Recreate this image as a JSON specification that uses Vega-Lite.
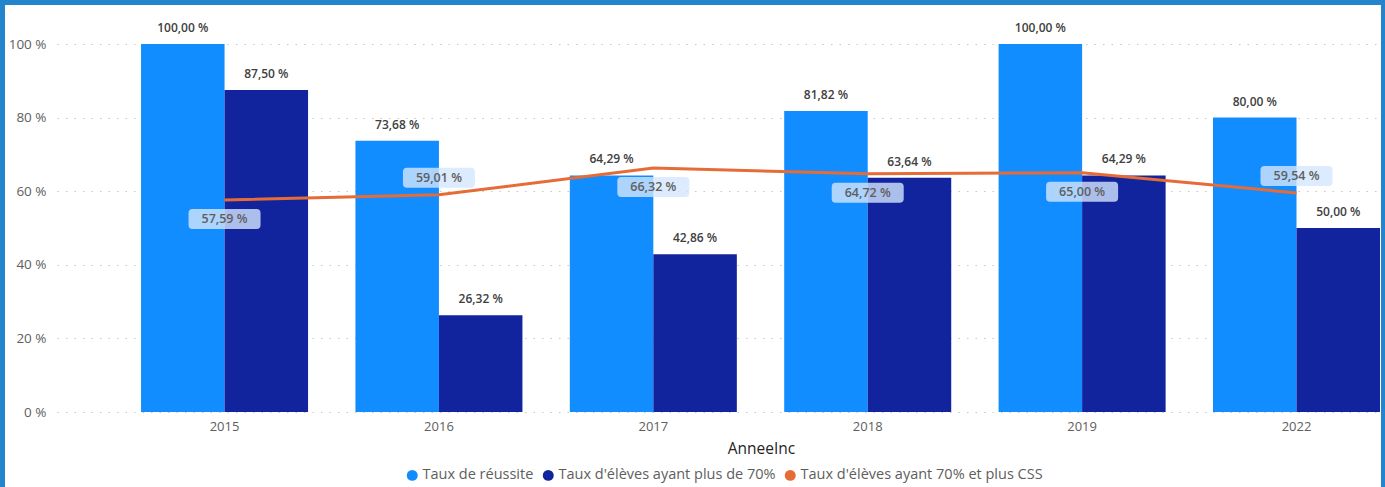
{
  "$schema": "https://vega.github.io/schema/vega-lite/v6.json",
  "width": 1376,
  "height": 482,
  "autosize": {"type": "none"},
  "padding": {"left": 5, "top": 5, "right": 4, "bottom": 0},
  "background": "#2585cc",
  "config": {
    "view": {"fill": "white", "stroke": null},
    "font": "Open Sans",
    "locale": {
      "number": {"decimal": ",", "thousands": " ", "grouping": [3], "currency": ["", " €"], "percent": " %"}
    }
  },
  "datasets": {
    "bars": [
      {"annee": "2015", "serie": "Taux de réussite", "valeur": 1.0},
      {"annee": "2015", "serie": "Taux d'élèves ayant plus de 70%", "valeur": 0.875},
      {"annee": "2016", "serie": "Taux de réussite", "valeur": 0.7368},
      {"annee": "2016", "serie": "Taux d'élèves ayant plus de 70%", "valeur": 0.2632},
      {"annee": "2017", "serie": "Taux de réussite", "valeur": 0.6429},
      {"annee": "2017", "serie": "Taux d'élèves ayant plus de 70%", "valeur": 0.4286},
      {"annee": "2018", "serie": "Taux de réussite", "valeur": 0.8182},
      {"annee": "2018", "serie": "Taux d'élèves ayant plus de 70%", "valeur": 0.6364},
      {"annee": "2019", "serie": "Taux de réussite", "valeur": 1.0},
      {"annee": "2019", "serie": "Taux d'élèves ayant plus de 70%", "valeur": 0.6429},
      {"annee": "2022", "serie": "Taux de réussite", "valeur": 0.8},
      {"annee": "2022", "serie": "Taux d'élèves ayant plus de 70%", "valeur": 0.5}
    ],
    "ligne": [
      {"annee": "2015", "css": 0.5759},
      {"annee": "2016", "css": 0.5901},
      {"annee": "2017", "css": 0.6632},
      {"annee": "2018", "css": 0.6472},
      {"annee": "2019", "css": 0.65},
      {"annee": "2022", "css": 0.5954}
    ]
  },
  "encoding": {
    "x": {
      "field": "annee",
      "type": "nominal",
      "title": "AnneeInc",
      "sort": null,
      "scale": {
        "domain": ["2015", "2016", "2017", "2018", "2019", "2022"],
        "range": [52, 1375],
        "paddingInner": 0.221,
        "paddingOuter": 0.196,
        "align": 1
      },
      "axis": {
        "orient": "bottom",
        "offset": -70,
        "domain": false,
        "ticks": false,
        "tickSize": 0,
        "labelAngle": 0,
        "labelPadding": 3,
        "labelFontSize": 13,
        "labelColor": "#605e5c",
        "titleFontSize": 15.5,
        "titleFontWeight": 500,
        "titleColor": "#252423",
        "titlePadding": 8,
        "titleX": 756
      }
    }
  },
  "layer": [
    {
      "data": {"name": "bars"},
      "mark": {"type": "bar"},
      "encoding": {
        "xOffset": {
          "field": "serie",
          "type": "nominal",
          "sort": null,
          "scale": {"domain": ["Taux de réussite", "Taux d'élèves ayant plus de 70%"], "paddingInner": 0, "paddingOuter": 0}
        },
        "y": {
          "field": "valeur",
          "type": "quantitative",
          "title": null,
          "scale": {"domain": [0, 1], "range": [407, 39], "nice": false},
          "axis": {
            "orient": "left",
            "offset": -52,
            "values": [0, 0.2, 0.4, 0.6, 0.8, 1],
            "format": ".0%",
            "domain": false,
            "ticks": false,
            "tickSize": 0,
            "labelPadding": 11,
            "labelFontSize": 13.5,
            "labelColor": "#605e5c",
            "gridColor": "#c8c6c4",
            "gridDash": [1.5, 7],
            "gridWidth": 1
          }
        },
        "color": {
          "field": "serie",
          "type": "nominal",
          "scale": {
            "domain": ["Taux de réussite", "Taux d'élèves ayant plus de 70%", "Taux d'élèves ayant 70% et plus CSS"],
            "range": ["#118DFF", "#12239E", "#E66C37"]
          },
          "legend": {
            "title": null,
            "orient": "none",
            "direction": "horizontal",
            "legendX": 400,
            "legendY": 463,
            "symbolType": "circle",
            "symbolSize": 120,
            "symbolStrokeWidth": 0,
            "labelFontSize": 14.5,
            "labelLimit": 0,
            "labelColor": "#605e5c",
            "labelOffset": 3,
            "columnPadding": 7
          }
        }
      }
    },
    {
      "data": {"name": "bars"},
      "mark": {"type": "text", "baseline": "bottom", "dy": -9, "fontSize": 12, "fontWeight": 600, "color": "#404040"},
      "encoding": {
        "xOffset": {
          "field": "serie",
          "type": "nominal",
          "sort": null,
          "scale": {"domain": ["Taux de réussite", "Taux d'élèves ayant plus de 70%"], "paddingInner": 0, "paddingOuter": 0}
        },
        "y": {"field": "valeur", "type": "quantitative"},
        "text": {"field": "valeur", "type": "quantitative", "format": ".2%"}
      }
    },
    {
      "data": {"name": "ligne"},
      "mark": {"type": "line", "color": "#E66C37", "strokeWidth": 3},
      "encoding": {
        "y": {"field": "css", "type": "quantitative"}
      }
    },
    {
      "data": {"name": "ligne"},
      "transform": [{"filter": "datum.annee != '2016' && datum.annee != '2022'"}],
      "mark": {
        "type": "point",
        "filled": true,
        "fill": "#d3e6fc",
        "fillOpacity": 0.8,
        "strokeWidth": 0,
        "size": 5184,
        "yOffset": 19,
        "shape": "M-0.889,-0.278 L0.889,-0.278 Q1,-0.278 1,-0.167 L1,0.167 Q1,0.278 0.889,0.278 L-0.889,0.278 Q-1,0.278 -1,0.167 L-1,-0.167 Q-1,-0.278 -0.889,-0.278 Z"
      },
      "encoding": {
        "y": {"field": "css", "type": "quantitative"}
      }
    },
    {
      "data": {"name": "ligne"},
      "transform": [{"filter": "datum.annee == '2016' || datum.annee == '2022'"}],
      "mark": {
        "type": "point",
        "filled": true,
        "fill": "#d3e6fc",
        "fillOpacity": 0.8,
        "strokeWidth": 0,
        "size": 5184,
        "yOffset": -17,
        "shape": "M-0.889,-0.278 L0.889,-0.278 Q1,-0.278 1,-0.167 L1,0.167 Q1,0.278 0.889,0.278 L-0.889,0.278 Q-1,0.278 -1,0.167 L-1,-0.167 Q-1,-0.278 -0.889,-0.278 Z"
      },
      "encoding": {
        "y": {"field": "css", "type": "quantitative"}
      }
    },
    {
      "data": {"name": "ligne"},
      "transform": [{"filter": "datum.annee != '2016' && datum.annee != '2022'"}],
      "mark": {"type": "text", "baseline": "middle", "dy": 19, "fontSize": 12.5, "fontWeight": 600, "color": "#605e5c"},
      "encoding": {
        "y": {"field": "css", "type": "quantitative"},
        "text": {"field": "css", "type": "quantitative", "format": ".2%"}
      }
    },
    {
      "data": {"name": "ligne"},
      "transform": [{"filter": "datum.annee == '2016' || datum.annee == '2022'"}],
      "mark": {"type": "text", "baseline": "middle", "dy": -17, "fontSize": 12.5, "fontWeight": 600, "color": "#605e5c"},
      "encoding": {
        "y": {"field": "css", "type": "quantitative"},
        "text": {"field": "css", "type": "quantitative", "format": ".2%"}
      }
    }
  ]
}
